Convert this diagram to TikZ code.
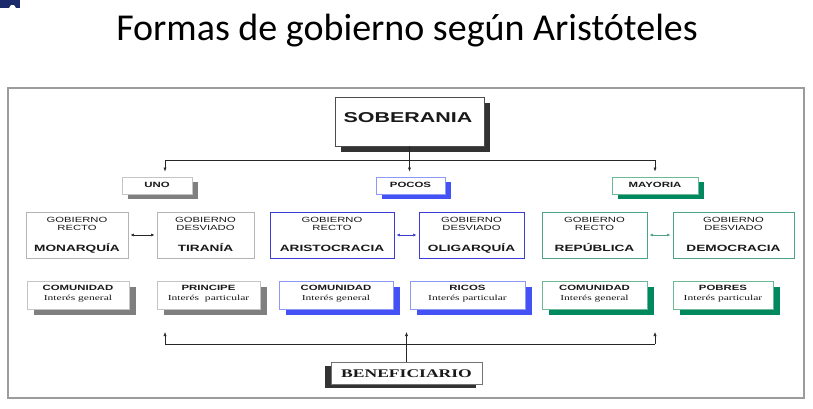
\documentclass[tikz,border=0pt]{standalone}
\usepackage{fontspec}
\setmainfont{Liberation Serif}
\setsansfont{Liberation Sans}
\newfontfamily\titlefont{Carlito}
\usetikzlibrary{shadows,arrows.meta}
\newcommand{\wx}[1]{\scalebox{1.5}[1]{#1}}
\definecolor{shgray}{HTML}{7F7F7F}
\definecolor{shblue}{HTML}{4452F5}
\definecolor{shgreen}{HTML}{00895E}
\definecolor{lgray}{HTML}{C4C4C4}
\definecolor{lblue}{HTML}{8C9AF5}
\definecolor{lgreen}{HTML}{6DB896}
\definecolor{mgray}{HTML}{B4B4B4}
\definecolor{mblue}{HTML}{3B3BD6}
\definecolor{mgreen}{HTML}{4CA483}
\definecolor{framegray}{HTML}{9C9C9C}
\definecolor{navy}{HTML}{1B2A6B}
\newcommand{\govbox}[6]{%
  \node[gbox, draw=#4, minimum width=#3pt] (#1) at (#2,235) {};
  \node[lbl, gfont] (#1-a) at (#2,222.5) {\wx{GOBIERNO}};
  \node[lbl, gfont] (#1-b) at (#2,230.8) {\wx{#5}};
  \node[lbl, nfont] (#1-c) at (#2,251) {\wx{#6}};
}
\newcommand{\benbox}[7]{%
  \node[bbox, draw=#4, minimum width=#3pt, general shadow={fill=#5, shadow xshift=7pt, shadow yshift=-6pt}] (#1) at (#2,295) {};
  \node[lbl, cfont] (#1-a) at (#2,290.7) {\wx{#6}};
  \node[lbl, sfont] (#1-b) at (#2,300) {\wx{#7}};
}
\begin{document}
\begin{tikzpicture}[x=1pt,y=-1pt,
  box/.style={rectangle, fill=white, inner sep=0pt, line width=0.9pt},
  hbox/.style={box, minimum height=17pt},
  gbox/.style={box, minimum height=46pt},
  bbox/.style={box, minimum height=28pt},
  lbl/.style={inner sep=0pt, anchor=base, text=black!90},
  hfont/.style={font=\sffamily\bfseries\fontsize{7.6}{8}\selectfont},
  gfont/.style={font=\sffamily\fontsize{7.5}{8}\selectfont},
  nfont/.style={font=\sffamily\bfseries\fontsize{9.1}{10}\selectfont},
  cfont/.style={font=\sffamily\bfseries\fontsize{7.6}{8}\selectfont},
  sfont/.style={font=\rmfamily\fontsize{7.7}{8}\selectfont},
  line/.style={line width=0.6pt, draw=black!85},
  arr/.style={line, -{Latex[length=4pt,width=3.2pt]}},
  darr/.style={line width=0.6pt, {Latex[length=3.5pt,width=3pt]}-{Latex[length=3.5pt,width=3pt]}, shorten <=2pt, shorten >=2pt},
]
\useasboundingbox (0,0) rectangle (813,408);
% corner mark
\fill[navy] (0,0) rectangle (20,8);
\fill[white] (9,8) -- (11,5) -- (14,5) -- (16,8) -- cycle;
% title
\node[anchor=base, inner sep=0pt, font=\titlefont\fontsize{38}{40}\selectfont] (title) at (407,40) {Formas de gobierno según Aristóteles};
% frame
\draw[framegray, line width=1.3pt] (8,88) rectangle (804,398);
% soberania
\node[box, draw=black!70, line width=0.8pt, minimum width=149pt, minimum height=49pt,
      general shadow={fill=black!80, shadow xshift=6pt, shadow yshift=-6pt}] (sob) at (409.5,121.5) {};
\node[lbl, font=\sffamily\bfseries\fontsize{14.3}{16}\selectfont] (sob-t) at (408,122.7) {\wx{SOBERANIA}};
% headers
\node[hbox, draw=lgray, minimum width=70pt, general shadow={fill=shgray, shadow xshift=6pt, shadow yshift=-5pt}] (uno) at (157,185.5) {};
\node[lbl, hfont] (uno-t) at (157,187.5) {\wx{UNO}};
\node[hbox, draw=lblue, minimum width=69pt, general shadow={fill=shblue, shadow xshift=6pt, shadow yshift=-5pt}] (pocos) at (410.5,185.5) {};
\node[lbl, hfont] (pocos-t) at (410.5,187.5) {\wx{POCOS}};
\node[hbox, draw=lgreen, minimum width=86pt, general shadow={fill=shgreen, shadow xshift=6pt, shadow yshift=-5pt}] (may) at (655,185.5) {};
\node[lbl, hfont] (may-t) at (655,187.5) {\wx{MAYORIA}};
% top connectors
\coordinate (jl) at (165,160);
\coordinate (jr) at (655,160);
\draw[line] (jl) -- (jr);
\draw[arr, shorten >=5pt] (sob.south) -- (sob.south |- pocos.north);
\draw[arr, shorten >=5pt] (jl) -- (jl |- uno.north);
\draw[arr, shorten >=5pt] (jr) -- (jr |- may.north);
% governments
\govbox{mon}{77}{102}{mgray}{RECTO}{MONARQUÍA}
\govbox{tir}{205.5}{97}{mgray}{DESVIADO}{TIRANÍA}
\govbox{ari}{332}{124}{mblue}{RECTO}{ARISTOCRACIA}
\govbox{oli}{471.5}{105}{mblue}{DESVIADO}{OLIGARQUÍA}
\govbox{rep}{594.5}{105}{mgreen}{RECTO}{REPÚBLICA}
\govbox{dem}{733.5}{121}{mgreen}{DESVIADO}{DEMOCRACIA}
\draw[darr, draw=black!85] (mon.east) -- (tir.west);
\draw[darr, draw=mblue] (ari.east) -- (oli.west);
\draw[darr, draw=mgreen] (rep.east) -- (dem.west);
% beneficiaries
\benbox{c1}{78}{102}{lgray}{shgray}{COMUNIDAD}{Interés general}
\benbox{pr}{208.5}{103}{lgray}{shgray}{PRINCIPE}{Interés\ \ particular}
\benbox{c2}{336}{114}{lblue}{shblue}{COMUNIDAD}{Interés general}
\benbox{ri}{467.5}{115}{lblue}{shblue}{RICOS}{Interés particular}
\benbox{c3}{594.5}{105}{lgreen}{shgreen}{COMUNIDAD}{Interés general}
\benbox{po}{723}{100}{lgreen}{shgreen}{POBRES}{Interés particular}
% beneficiario
\node[box, draw=black!55, line width=0.8pt, minimum width=151pt, minimum height=22pt,
      general shadow={fill=black!80, shadow xshift=-6.5pt, shadow yshift=-4pt}] (ben) at (406.5,373) {};
\node[lbl, font=\rmfamily\bfseries\fontsize{11.7}{13}\selectfont] (ben-t) at (406.5,377) {\wx{BENEFICIARIO}};
\coordinate (bl) at (165,344);
\coordinate (br) at (655,344);
\coordinate (tl) at (165,332);
\coordinate (tr) at (655,332);
\coordinate (tm) at (406.5,332);
\draw[line] (bl) -- (br);
\draw[arr] (bl) -- (tl);
\draw[arr] (br) -- (tr);
\draw[arr] (ben.north) -- (tm);
\end{tikzpicture}
\end{document}
